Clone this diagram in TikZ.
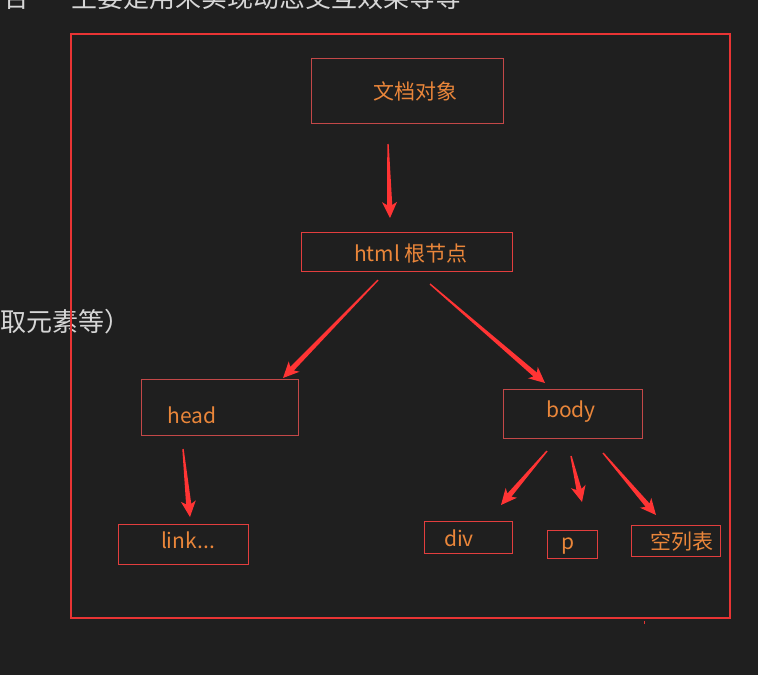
\documentclass[tikz,border=0pt]{standalone}
\usepackage{fontspec}
\setmainfont{Noto Sans CJK SC}
\usetikzlibrary{calc}

\definecolor{bgdark}{RGB}{31,31,31}
\definecolor{framered}{RGB}{232,52,52}
\definecolor{boxred}{RGB}{226,62,62}
\definecolor{boxdim}{RGB}{196,72,72}
\definecolor{arrowred}{RGB}{255,52,52}
\definecolor{nodeorange}{RGB}{234,134,58}
\definecolor{notegray}{RGB}{214,214,214}

% tapered arrow: #1 start, #2 tip
\newcommand{\wedgearrow}[2]{%
  \coordinate (wa-j) at ($(#2)!13pt!(#1)$);
  \coordinate (wa-w) at ($(#2)!16pt!(#1)$);
  \fill[arrowred] ($(#1)!0.7pt!90:(#2)$) -- ($(wa-j)!2.6pt!90:(#2)$)
    -- ($(wa-w)!7.5pt!90:(#2)$) -- (#2) -- ($(wa-w)!7.5pt!-90:(#2)$)
    -- ($(wa-j)!2.6pt!-90:(#2)$) -- ($(#1)!0.7pt!-90:(#2)$) -- cycle;}

\begin{document}
\begin{tikzpicture}[x=1pt,y=-1pt,
    box/.style={draw=boxred,line width=1pt,inner sep=0pt},
    dimbox/.style={box,draw=boxdim},
    txt/.style={text=nodeorange,inner sep=0pt,font=\fontsize{21}{25}\selectfont},
    note/.style={text=notegray,inner sep=0pt,font=\fontsize{26}{30}\selectfont}
    ]

    \path[use as bounding box,fill=bgdark] (0,0) rectangle (758,675);
    \clip (0,0) rectangle (758,675);

    % cut-off notes:
    \node (top1) at (3,7) [note,anchor=base west] {合};
    \node (top2) at (71,7) [note,anchor=base west] {主要是用来实现动态交互效果等等};
    \node (left) at (0,322) [note,anchor=west] {取元素等）};

    % frame:
    \draw[framered,line width=1.2pt] (71,34) rectangle (730,618);
    \draw[framered,line width=1pt] (644,621) -- (644,624);

    % boxes:
    \node (doc) at (407,90.5) [dimbox,minimum width=192pt,minimum height=65pt] {};
    \node (html) at (406.5,251.5) [box,minimum width=211pt,minimum height=39pt] {};
    \node (head) at (219.5,407) [dimbox,minimum width=157pt,minimum height=56pt] {};
    \node (body) at (572.5,413.5) [dimbox,minimum width=139pt,minimum height=49pt] {};
    \node (link) at (183,544) [box,minimum width=130pt,minimum height=40pt] {};
    \node (div) at (468,537) [box,minimum width=88pt,minimum height=32pt] {};
    \node (p) at (572,544) [box,minimum width=50pt,minimum height=28pt] {};
    \node (empty) at (675.5,540.5) [box,minimum width=89pt,minimum height=31pt] {};

    % box texts:
    \node (doc-t) at (415,91) [txt] {文档对象};
    \node (html-t) at (411,254) [txt] {html 根节点};
    \node (head-t) at (192,415) [txt] {head};
    \node (body-t) at (571,411.5) [txt] {body};
    \node (link-t) at (188,540) [txt] {link...};
    \node (div-t) at (459,538) [txt] {div};
    \node (p-t) at (568,546) [txt] {p};
    \node (empty-t) at (682,542) [txt] {空列表};

    % arrow ends:
    \coordinate (doc-s) at (388,144);
    \coordinate (html-e) at (390,218);
    \coordinate (html-s1) at (378,280);
    \coordinate (head-e) at (283,378);
    \coordinate (html-s2) at (430,284);
    \coordinate (body-e) at (545,383);
    \coordinate (head-s) at (183,449);
    \coordinate (link-e) at (190,517);
    \coordinate (body-s1) at (547,451);
    \coordinate (div-e) at (501,505);
    \coordinate (body-s2) at (571,456);
    \coordinate (p-e) at (582,502);
    \coordinate (body-s3) at (603,453);
    \coordinate (empty-e) at (656,515);

    % connect:
    \wedgearrow{doc-s}{html-e}
    \wedgearrow{html-s1}{head-e}
    \wedgearrow{html-s2}{body-e}
    \wedgearrow{head-s}{link-e}
    \wedgearrow{body-s1}{div-e}
    \wedgearrow{body-s2}{p-e}
    \wedgearrow{body-s3}{empty-e}

  \end{tikzpicture}
\end{document}
